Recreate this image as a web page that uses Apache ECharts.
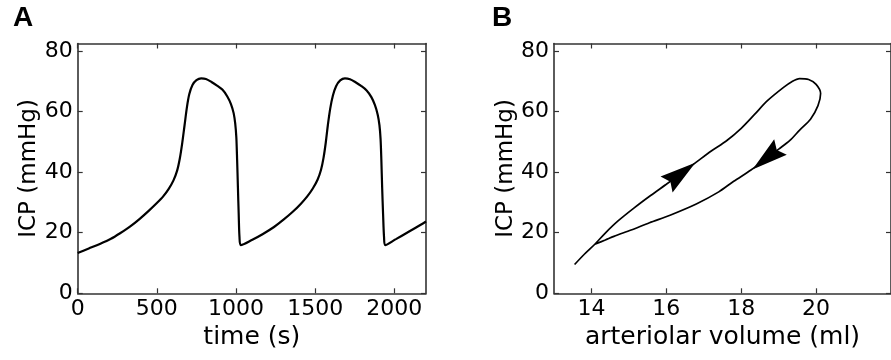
<!DOCTYPE html>
<html>
<head>
<meta charset="utf-8">
<style>
  html, body { margin: 0; padding: 0; background: #ffffff; }
  #chart { width: 891px; height: 360px; }
</style>
<script src="https://cdn.jsdelivr.net/npm/echarts@6/dist/echarts.min.js"></script>
</head>
<body>
<div id="chart"></div>
<script>
// ---------- Panel A: ICP vs time ----------
const timeA = [0, 70, 140, 210, 270, 330, 390, 450, 500, 540, 575, 605, 628, 645, 660, 675, 690, 705, 725, 750, 780, 810, 845, 880, 915, 945, 968, 985, 995, 1002, 1007, 1012, 1017, 1022,
  1030, 1100, 1170, 1240, 1300, 1360, 1410, 1450, 1485, 1515, 1537, 1553, 1567, 1580, 1595, 1612, 1632, 1658, 1688, 1720, 1755, 1790, 1825, 1855, 1877, 1895, 1906, 1913, 1918, 1923, 1929, 1935,
  1942, 2010, 2080, 2140, 2200];
const icpA = [13.3, 14.8, 16.3, 18.0, 19.9, 22.0, 24.5, 27.3, 29.8, 32.0, 34.5, 37.3, 40.5, 44.5, 49.5, 55.5, 61.5, 65.8, 68.8, 70.4, 71.0, 70.8, 69.8, 68.6, 67.2, 65.0, 62.5, 59.5, 56.0, 51.5, 44, 35, 26, 18.5,
  15.9, 17.6, 19.6, 21.9, 24.3, 27.0, 29.6, 32.0, 34.6, 37.5, 40.8, 44.8, 49.8, 55.5, 61.0, 65.3, 68.4, 70.3, 71.0, 70.7, 69.7, 68.5, 67.0, 64.8, 62.2, 59.0, 55.5, 51.0, 44, 35, 26, 18.5,
  15.9, 17.9, 20.0, 21.8, 23.7];

// ---------- Panel B: ICP vs arteriolar volume ----------
const volB = [13.55, 13.81, 14.09, 14.37, 14.71, 15.15, 15.58, 16.0, 16.4, 16.8, 17.2, 17.6, 18.0, 18.35, 18.70, 19.13, 19.35, 19.56, 19.8, 20.0, 20.12,
  20.05, 19.85, 19.56, 19.30, 19.0, 18.65, 18.26, 17.8, 17.4, 16.8, 16.1, 15.55, 15.06, 14.6, 14.37, 14.09];
const icpB = [9.5, 12.9, 16.2, 19.9, 23.9, 28.3, 32.3, 36.0, 39.6, 43.3, 47.0, 50.3, 54.5, 59.0, 63.6, 68.0, 69.9, 70.9, 70.6, 69.0, 66.0,
  62.0, 57.5, 53.9, 50.5, 47.6, 44.3, 40.7, 37.0, 33.5, 29.5, 25.8, 23.3, 20.9, 18.8, 17.6, 16.2];

// direction arrows on the loop
const arrowVol = [16.39, 18.675];
const arrowIcp = [39.5, 44.6];
const arrowAngle = [-53, 129];

// tick labels
const xTicksA = [0, 500, 1000, 1500, 2000];
const xTicksB = [14, 16, 18, 20];
const yTicks = [0, 20, 40, 60, 80];

// titles
const panelLabels = ['A', 'B'];
const xNames = ['time (s)', 'arteriolar volume (ml)'];
const yName = 'ICP (mmHg)';

const FONT = '"DejaVu Sans", sans-serif';
const AX = '#333';

function pairs(xs, ys) { return xs.map((x, i) => [x, ys[i]]); }
const plain = v => String(v);

function bottomX(grid, min, max, ticks, name) {
  return {
    type: 'value', gridIndex: grid, position: 'bottom', min: min, max: max,
    name: name, nameLocation: 'middle', nameGap: 32,
    nameTextStyle: { fontFamily: FONT, fontSize: 25, color: '#000' },
    axisLine: { show: true, onZero: false, lineStyle: { color: AX, width: 1.6 } },
    axisTick: { show: true, inside: true, length: 5, customValues: ticks, lineStyle: { color: AX, width: 1.2 } },
    axisLabel: { show: true, customValues: ticks, formatter: plain, margin: 5, fontFamily: FONT, fontSize: 22, color: '#000' },
    splitLine: { show: false }
  };
}
function topX(grid, min, max, ticks) {
  return {
    type: 'value', gridIndex: grid, position: 'top', min: min, max: max,
    axisLine: { show: true, onZero: false, lineStyle: { color: AX, width: 1.6 } },
    axisTick: { show: true, inside: true, length: 5, customValues: ticks, lineStyle: { color: AX, width: 1.2 } },
    axisLabel: { show: false },
    splitLine: { show: false }
  };
}
function leftY(grid) {
  return {
    type: 'value', gridIndex: grid, position: 'left', min: 0, max: 82.5,
    name: yName, nameLocation: 'middle', nameGap: 36,
    nameTextStyle: { fontFamily: FONT, fontSize: 23, color: '#000' },
    axisLine: { show: true, onZero: false, lineStyle: { color: AX, width: 1.6 } },
    axisTick: { show: true, inside: true, length: 5, customValues: yTicks, lineStyle: { color: AX, width: 1.2 } },
    axisLabel: { show: true, customValues: yTicks, formatter: plain, margin: 5, fontFamily: FONT, fontSize: 22, color: '#000' },
    splitLine: { show: false }
  };
}
function rightY(grid) {
  return {
    type: 'value', gridIndex: grid, position: 'right', min: 0, max: 82.5,
    axisLine: { show: true, onZero: false, lineStyle: { color: AX, width: 1.6 } },
    axisTick: { show: true, inside: true, length: 5, customValues: yTicks, lineStyle: { color: AX, width: 1.2 } },
    axisLabel: { show: false },
    splitLine: { show: false }
  };
}

const chart = echarts.init(document.getElementById('chart'), null, { renderer: 'canvas' });
chart.setOption({
  animation: false,
  backgroundColor: '#ffffff',
  graphic: [
    { type: 'text', left: 13, top: 4, style: { text: panelLabels[0], font: 'bold 28px "Liberation Sans", Arial, sans-serif', fill: '#000' } },
    { type: 'text', left: 492, top: 4, style: { text: panelLabels[1], font: 'bold 28px "Liberation Sans", Arial, sans-serif', fill: '#000' } }
  ],
  grid: [
    { left: 77.7, top: 43.5, width: 348.3, height: 249.8 },
    { left: 554, top: 43.5, width: 346.5, height: 249.8 }
  ],
  xAxis: [
    bottomX(0, 0, 2200, xTicksA, xNames[0]),
    topX(0, 0, 2200, xTicksA),
    bottomX(1, 13, 22, xTicksB, xNames[1]),
    topX(1, 13, 22, xTicksB)
  ],
  yAxis: [leftY(0), rightY(0), leftY(1), rightY(1)],
  series: [
    {
      type: 'line', xAxisIndex: 0, yAxisIndex: 0,
      data: pairs(timeA, icpA),
      showSymbol: false, smooth: 0.3,
      lineStyle: { color: '#000', width: 2.2 }
    },
    {
      type: 'line', xAxisIndex: 2, yAxisIndex: 2,
      data: pairs(volB, icpB),
      showSymbol: false, smooth: 0.3,
      lineStyle: { color: '#000', width: 1.7 }
    },
    {
      type: 'scatter', xAxisIndex: 2, yAxisIndex: 2, z: 5,
      symbol: 'path://M0,0 L10,30 L0,26 L-10,30 Z',
      symbolSize: [20, 36],
      itemStyle: { color: '#000', opacity: 1 },
      data: arrowVol.map((v, i) => ({ value: [v, arrowIcp[i]], symbolRotate: arrowAngle[i] }))
    }
  ]
});
</script>
</body>
</html>
